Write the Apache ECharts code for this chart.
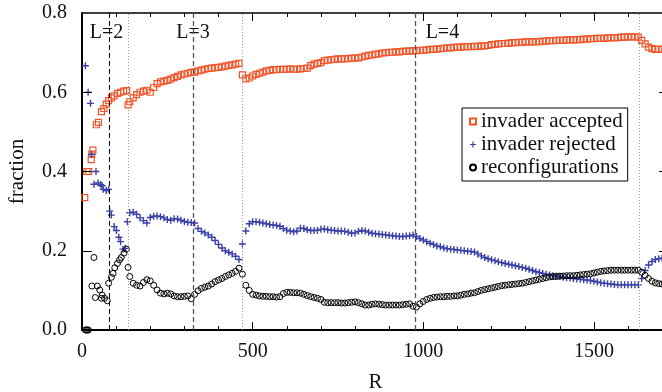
<!DOCTYPE html>
<html>
<head>
<meta charset="utf-8">
<script src="https://cdn.jsdelivr.net/npm/echarts@6/dist/echarts.min.js"></script>
<style>
  html, body { margin: 0; padding: 0; background: #fff; }
  #chart { width: 662px; height: 392px; }
</style>
</head>
<body>
<div id="chart"></div>
<script>
// sparse points at small R, [R, fraction]
const acceptedEarly = [[8,0.334],[14,0.40],[20,0.40],[27,0.43],[29,0.444],[32,0.454],[42,0.518],[48,0.524],
  [57,0.551],[64,0.559],[71,0.570],[78,0.579],[86,0.586],[94,0.591],[104,0.597],[113,0.600],[122,0.603],[131,0.604],[135,0.568]]
const rejectedEarly = [[10,0.667],[18,0.600],[25,0.572],[28,0.443],[41,0.400],[35,0.368],[47,0.371],[55,0.367],[59,0.364],
  [62,0.355],[71,0.352],[78,0.355],[81,0.300],[86,0.290],[94,0.261],[101,0.251],[108,0.234],[113,0.223],[120,0.204],[127,0.206],[133,0.273]]
const reconfEarly = [[10,0],[13,0],[16,0],[19,0],[35,0.183],[29,0.111],[45,0.111],[39,0.082],[52,0.101],[59,0.088],[57,0.080],
  [66,0.080],[74,0.074],[78,0.118],[86,0.133],[91,0.143],[96,0.157],[104,0.168],[110,0.177],[115,0.183],[123,0.194],[130,0.204],[135,0.158]]

// dense part, one value per R below
const rGrid = [140,150,160,170,180,190,200,210,220,230,240,250,260,270,280,290,300,310,320,330,340,350,360,370,380,390,
  400,410,420,430,440,450,460,470,480,490,500,510,520,530,540,550,560,570,580,590,600,610,620,630,640,650,660,670,680,690,
  700,710,720,730,740,750,760,770,780,790,800,810,820,830,840,850,860,870,880,890,900,910,920,930,940,950,960,970,980,990,
  1000,1010,1020,1030,1040,1050,1060,1070,1080,1090,1100,1110,1120,1130,1140,1150,1160,1170,1180,1190,
  1200,1210,1220,1230,1240,1250,1260,1270,1280,1290,1300,1310,1320,1330,1340,1350,1360,1370,1380,1390,
  1400,1410,1420,1430,1440,1450,1460,1470,1480,1490,1500,1510,1520,1530,1540,1550,1560,1570,1580,1590,
  1600,1610,1620,1630,1640,1650,1660,1670,1680,1690,1700]

const accepted = [0.576,0.586,0.594,0.600,0.603,0.605,0.600,0.612,0.622,0.626,0.628,0.630,0.633,0.637,0.640,0.644,0.646,0.648,0.650,0.651,
  0.654,0.656,0.658,0.660,0.661,0.662,0.663,0.664,0.666,0.668,0.669,0.671,0.673,0.644,0.634,0.636,0.641,0.645,0.648,0.651,
  0.654,0.655,0.657,0.657,0.658,0.658,0.658,0.659,0.658,0.658,0.659,0.660,0.661,0.667,0.671,0.673,0.675,0.680,0.681,0.682,
  0.683,0.684,0.684,0.685,0.685,0.686,0.686,0.687,0.689,0.691,0.693,0.694,0.696,0.697,0.699,0.700,0.701,0.701,0.702,0.702,
  0.703,0.704,0.704,0.705,0.705,0.706,0.706,0.707,0.708,0.708,0.709,0.710,0.711,0.712,0.712,0.713,0.714,0.714,0.715,0.715,
  0.715,0.716,0.716,0.717,0.717,0.718,0.720,0.721,0.722,0.723,0.723,0.724,0.725,0.725,0.726,0.726,0.727,0.727,0.727,0.728,
  0.728,0.729,0.729,0.730,0.730,0.731,0.731,0.731,0.732,0.732,0.732,0.733,0.733,0.734,0.734,0.735,0.735,0.736,0.736,0.736,
  0.737,0.737,0.738,0.738,0.739,0.739,0.740,0.740,0.740,0.739,0.731,0.722,0.714,0.710,0.708,0.708,0.709]

const rejected = [0.296,0.297,0.292,0.283,0.276,0.270,0.284,0.287,0.288,0.286,0.283,0.279,0.277,0.281,0.280,0.277,0.274,0.272,0.271,0.270,
  0.256,0.249,0.245,0.240,0.234,0.226,0.216,0.207,0.200,0.196,0.192,0.186,0.178,0.217,0.250,0.268,0.273,0.273,0.272,0.270,
  0.268,0.266,0.265,0.264,0.262,0.256,0.252,0.250,0.248,0.250,0.257,0.256,0.253,0.251,0.251,0.252,0.254,0.255,0.253,0.252,
  0.251,0.250,0.250,0.249,0.247,0.244,0.245,0.249,0.251,0.250,0.247,0.244,0.243,0.242,0.241,0.240,0.239,0.238,0.237,0.236,
  0.236,0.237,0.238,0.240,0.236,0.231,0.227,0.223,0.219,0.216,0.212,0.210,0.207,0.205,0.204,0.203,0.202,0.201,0.200,0.199,
  0.198,0.197,0.192,0.187,0.183,0.180,0.177,0.175,0.172,0.170,0.168,0.166,0.164,0.162,0.160,0.158,0.156,0.153,0.150,0.147,
  0.145,0.143,0.141,0.139,0.137,0.136,0.135,0.133,0.132,0.131,0.130,0.129,0.128,0.127,0.126,0.125,0.123,0.121,0.119,0.118,
  0.117,0.116,0.115,0.114,0.114,0.114,0.114,0.114,0.114,0.114,0.130,0.150,0.164,0.173,0.178,0.180,0.181]

const reconf = [0.135,0.118,0.113,0.111,0.120,0.127,0.124,0.113,0.101,0.093,0.091,0.093,0.091,0.086,0.084,0.084,0.085,0.086,0.079,0.090,
  0.099,0.105,0.108,0.111,0.116,0.122,0.126,0.130,0.135,0.139,0.143,0.148,0.156,0.141,0.113,0.100,0.090,0.088,0.086,0.085,
  0.085,0.084,0.084,0.083,0.084,0.092,0.095,0.095,0.094,0.094,0.093,0.090,0.087,0.084,0.082,0.080,0.077,0.070,0.069,0.069,
  0.069,0.069,0.068,0.068,0.069,0.070,0.071,0.069,0.066,0.063,0.063,0.065,0.066,0.065,0.064,0.063,0.063,0.063,0.063,0.063,
  0.064,0.065,0.066,0.060,0.058,0.066,0.072,0.077,0.080,0.082,0.083,0.084,0.084,0.085,0.085,0.086,0.086,0.088,0.090,0.091,
  0.093,0.094,0.097,0.100,0.102,0.104,0.106,0.108,0.110,0.112,0.113,0.114,0.115,0.116,0.117,0.118,0.120,0.122,0.124,0.126,
  0.128,0.130,0.132,0.134,0.135,0.135,0.136,0.136,0.137,0.137,0.137,0.138,0.139,0.140,0.141,0.142,0.144,0.146,0.148,0.149,
  0.150,0.151,0.151,0.151,0.151,0.151,0.151,0.151,0.151,0.151,0.146,0.138,0.130,0.123,0.119,0.117,0.116]

// vertical guides
const boundaryR = [80, 325, 977]       // dashed
const transitionR = [135, 471, 1633]   // dotted
const levelLabels = ['L=2', 'L=3', 'L=4']
const levelLabelR = [72, 325, 1056]

// tick positions
const xMajorTicks = [0, 500, 1000, 1500]
const xMinorTicks = [100, 200, 300, 400, 600, 700, 800, 900, 1100, 1200, 1300, 1400, 1600, 1700]
const yTicks = [0.2, 0.4, 0.6]

const FONT = 'Liberation Serif'
const RED = '#f0552a'
const BLUE = '#3a42a8'
const X_MAX = 1720   // plot runs a little past the right edge of the picture
const Y_MAX = 0.8
const TICK_Y = 0.02  // about 10px on the y scale
const TICK_X = 29    // about 10px on the x scale

function withDense(early, vals) {
  return early.concat(rGrid.map((r, i) => [r, vals[i]]))
}

// frame and inward ticks as data-space segments
const solid = w => ({ type: 'solid', color: '#000', width: w })
const seg = (a, b, w) => [{ coord: a, lineStyle: solid(w) }, { coord: b }]
const frameLines = [{ yAxis: Y_MAX, lineStyle: solid(1.5) }]
xMajorTicks.forEach(v => {
  frameLines.push(seg([v, 0], [v, TICK_Y], 1), seg([v, Y_MAX], [v, Y_MAX - TICK_Y], 1))
})
xMinorTicks.forEach(v => {
  frameLines.push(seg([v, 0], [v, TICK_Y / 2], 1), seg([v, Y_MAX], [v, Y_MAX - TICK_Y / 2], 1))
})
yTicks.forEach(v => {
  frameLines.push(seg([0, v], [TICK_X, v], 1), seg([X_MAX, v], [X_MAX - TICK_X, v], 1))
})

const guideLines = boundaryR.map((r, i) => ({
  xAxis: r,
  lineStyle: { type: [5, 3], width: i === 0 ? 1 : 1.3, color: i === 0 ? '#000' : '#555' }
})).concat(transitionR.map(r => ({
  xAxis: r,
  lineStyle: { type: [1, 2], width: 1, color: '#999' }
})))

const chart = echarts.init(document.getElementById('chart'), null, { renderer: 'canvas' })

const line = w => ({ show: true, onZero: false, lineStyle: { color: '#000', width: w } })

let option = {
  animation: false,
  grid: { left: 82, top: 13, right: -7, bottom: 62, outerBoundsMode: 'none' },
  textStyle: { fontFamily: FONT },
  legend: {
    data: ['invader accepted', 'invader rejected', 'reconfigurations'],
    orient: 'vertical',
    left: 462, top: 108,
    padding: [3, 5, 3, 7],
    itemGap: 2,
    itemWidth: 6, itemHeight: 6,
    borderColor: '#000', borderWidth: 1, borderRadius: 0,
    backgroundColor: '#fff',
    textStyle: { fontFamily: FONT, fontSize: 21, color: '#111', lineHeight: 20 }
  },
  xAxis: {
    type: 'value', min: 0, max: X_MAX, interval: 500, splitLine: { show: false },
    position: 'bottom',
    name: 'R', nameLocation: 'middle', nameGap: 42,
    nameTextStyle: { fontFamily: FONT, fontSize: 21, color: '#111' },
    axisLine: line(2),
    axisTick: { show: false },
    axisLabel: { fontFamily: FONT, fontSize: 20, color: '#111', margin: 12, showMaxLabel: false,
      formatter: v => String(v) }
  },
  yAxis: {
    type: 'value', min: 0, max: Y_MAX, interval: 0.2, splitLine: { show: false },
    position: 'left',
    name: 'fraction', nameLocation: 'middle', nameGap: 54,
    nameTextStyle: { fontFamily: FONT, fontSize: 21, color: '#111' },
    axisLine: line(2),
    axisTick: { show: false },
    axisLabel: { fontFamily: FONT, fontSize: 20, color: '#111', margin: 15,
      formatter: v => v.toFixed(1) }
  },
  series: [
    {
      name: 'frame', type: 'scatter', data: [], silent: true,
      markLine: {
        silent: true, symbol: 'none', animation: false,
        label: { show: false },
        data: frameLines
      }
    },
    {
      name: 'guides', type: 'scatter', data: [], silent: true,
      markLine: {
        silent: true, symbol: 'none', animation: false,
        label: { show: false },
        data: guideLines
      }
    },
    {
      name: 'invader accepted', type: 'scatter',
      symbol: 'rect', symbolSize: 6,
      itemStyle: { color: 'rgba(255,255,255,0)', borderColor: RED, borderWidth: 1.2, opacity: 1 },
      data: withDense(acceptedEarly, accepted)
    },
    {
      name: 'invader rejected', type: 'scatter',
      symbol: 'path://M4,0H6V4H10V6H6V10H4V6H0V4H4Z', symbolSize: 7,
      itemStyle: { color: BLUE, opacity: 1 },
      data: withDense(rejectedEarly, rejected)
    },
    {
      name: 'reconfigurations', type: 'scatter',
      symbol: 'circle', symbolSize: 6,
      itemStyle: { color: 'rgba(255,255,255,0)', borderColor: '#000', borderWidth: 1, opacity: 1 },
      data: withDense(reconfEarly, reconf)
    },
    {
      name: 'labels', type: 'scatter', symbol: 'circle', symbolSize: 1, silent: true,
      itemStyle: { opacity: 0 },
      data: levelLabelR.map((r, i) => ({ value: [r, 0.75], name: levelLabels[i] })),
      label: {
        show: true, position: 'inside', formatter: p => p.name,
        fontFamily: FONT, fontSize: 20, color: '#111', opacity: 1
      }
    }
  ]
}

chart.setOption(option)
</script>
</body>
</html>
